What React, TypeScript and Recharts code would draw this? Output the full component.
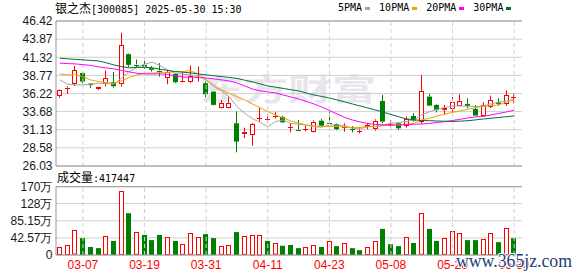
import React from 'react';
import { ComposedChart, Bar, Line, XAxis, YAxis, CartesianGrid, ReferenceLine } from 'recharts';

const dates = ['03-04','03-05','03-06','03-07','03-10','03-11','03-12','03-13','03-14','03-17','03-18','03-19','03-20','03-21','03-24','03-25','03-26','03-27','03-28','03-31','04-01','04-02','04-03','04-07','04-08','04-09','04-10','04-11','04-14','04-15','04-16','04-17','04-18','04-21','04-22','04-23','04-24','04-25','04-28','04-29','04-30','05-06','05-07','05-08','05-09','05-12','05-13','05-14','05-15','05-16','05-19','05-20','05-21','05-22','05-23','05-26','05-27','05-28','05-29','05-30'];

const openP = [35.84,36.85,37.62,39.10,37.62,36.83,37.53,37.81,37.53,41.76, 40.30,40.25,39.78,39.45,38.38,38.98,37.85,37.81,38.40,37.67, 36.49,34.15,34.15,32.04,30.49,30.40,32.70,32.60,33.05,32.93, 31.38,31.15,31.15,30.77,32.40,32.10,31.90,31.48,31.22,30.92, 31.56,31.20,35.18,31.88,32.04,31.66,33.07,32.27,35.79,34.62, 33.87,34.00,34.52,34.76,34.05,33.11,34.33,34.99,34.80,35.60];
const highP = [36.80,37.25,40.10,39.20,37.70,37.18,39.45,39.26,44.76,41.85, 41.00,41.10,40.07,40.50,39.55,39.08,39.30,40.15,40.00,37.90, 36.55,35.32,35.79,33.70,31.42,32.04,34.25,33.30,33.60,33.10, 32.04,32.50,31.75,32.45,32.65,33.65,32.00,32.04,31.65,31.30, 32.10,32.60,36.03,32.50,32.15,33.00,33.45,38.84,36.17,34.70, 34.62,35.74,36.12,35.55,34.62,34.99,35.93,35.55,36.69,36.21];
const lowP = [35.60,36.15,37.25,37.65,36.97,36.70,37.20,37.05,37.20,39.97, 39.80,39.70,39.30,38.60,37.53,37.67,37.80,37.67,37.90,35.70, 34.55,34.10,34.10,27.95,29.93,28.88,32.27,32.27,32.74,32.07, 30.77,31.05,30.90,30.70,31.55,31.95,31.05,30.86,30.75,30.60, 31.20,31.00,32.04,31.57,31.10,31.42,32.27,32.00,34.52,33.59, 33.30,33.59,34.45,34.15,33.10,32.97,34.20,34.52,34.50,34.85];
const closeP = [36.73,37.05,39.50,37.90,37.40,37.15,38.42,37.25,43.02,40.25, 40.20,40.00,39.55,39.30,39.22,37.81,37.95,38.70,38.50,36.12, 34.62,34.90,34.90,29.45,30.86,31.90,32.78,32.68,33.12,32.18, 31.45,31.05,31.25,32.27,31.70,32.00,31.20,31.55,31.18,31.00, 31.80,32.40,32.27,31.95,31.33,32.60,32.40,36.59,34.52,33.90, 34.15,34.99,35.14,34.43,33.11,34.62,35.28,34.76,35.98,35.74];

const ma5 = [38.14,37.53,37.43,37.43,37.53,37.67,37.67,37.53,38.38,39.31, 39.87,40.35,40.63,40.15,39.55,39.08,38.94,38.84,38.60,38.14, 37.19,36.59,35.79,34.38,33.45,32.70,32.15,31.56,32.27,32.50, 32.04,31.90,31.80,31.56,31.48,31.80,31.80,31.70,31.34,31.24, 31.56,31.56,31.80,32.04,32.15,32.27,32.50,33.21,33.67,34.01, 34.24,34.48,34.48,34.48,34.38,34.48,34.76,35.00,35.18,35.45];
const ma10 = [38.98,38.84,38.84,38.60,38.14,37.90,37.76,37.67,37.99,38.46, 38.84,39.08,39.08,39.17,39.17,39.31,39.31,39.45,38.94,38.14, 37.43,36.73,36.26,35.79,35.32,34.76,34.24,33.70,33.21,32.79, 32.36,32.08,31.80,31.66,31.59,31.59,31.59,31.52,31.42,31.45, 31.56,31.63,31.70,31.76,31.80,31.87,32.04,32.50,32.74,33.07, 33.31,33.59,33.77,34.01,34.24,34.38,34.52,34.62,35.00,35.32];
const ma20 = [40.49,40.43,40.39,40.28,40.18,39.97,39.83,39.69,39.48,39.26, 39.08,38.98,38.98,38.98,38.91,38.70,38.52,38.52,38.49,38.42, 38.28,38.14,37.99,37.71,37.29,36.87,36.59,36.45,36.31,36.02, 35.74,35.46,35.11,34.76,34.33,33.84,33.35,32.86,32.50,32.22, 32.01,31.87,31.80,31.80,31.80,31.87,31.91,31.94,32.01,32.15, 32.27,32.43,32.60,32.79,32.93,33.00,33.21,33.42,33.63,33.87];
const ma30 = [41.19,41.10,41.02,40.95,40.88,40.81,40.55,40.25,40.01,39.83, 39.90,39.90,39.85,39.64,39.48,39.31,39.22,39.12,38.98,38.84, 38.72,38.60,38.48,38.35,38.10,37.86,37.58,37.29,37.12,36.94, 36.76,36.59,36.30,36.02,35.81,35.60,35.32,35.04,34.75,34.47, 34.19,33.91,33.60,33.28,32.96,32.64,32.53,32.43,32.40,32.36, 32.32,32.29,32.34,32.40,32.52,32.64,32.75,32.86,32.96,33.07];

const volume = [20,25,61,42,20,17,47,35,159,104, 57,50,37,50,45,35,27,54,45,52, 42,22,25,57,47,51,51,35,29,23, 25,17,20,25,20,35,22,29,17,12, 20,35,65,27,22,45,30,104,65,35, 42,60,55,37,37,40,55,32,67,41.74];
const volUp = [1,1,1,0,0,0,1,0,1,0, 1,0,0,0,1,0,1,1,1,0, 0,1,1,0,1,1,1,0,1,0, 0,0,1,1,0,1,0,1,0,0, 1,1,0,0,0,1,0,1,0,0, 1,1,1,0,0,1,1,0,1,0];

const priceTicks = [26.03, 28.58, 31.13, 33.68, 36.22, 38.77, 41.32, 43.87, 46.42];
const volTicks = [0, 42.57, 85.15, 128, 170];
const volTickLabels = ['0', '42.57万', '85.15万', '128万', '170万'];
const dateTicks = ['03-07','03-19','03-31','04-11','04-23','05-08','05-20','05-30'];
const maNames = ['5PMA', '10PMA', '20PMA', '30PMA'];
const maKeys = ['ma5', 'ma10', 'ma20', 'ma30'];
const maColors = ['#a6a6a6', '#f0a400', '#ff00ff', '#00703a'];
const titleText = '银之杰[300085] 2025-05-30 15:30';
const volTitleText = '成交量:417447';
const watermarkText = '东方财富';
const siteText = 'www.365jz.com';

const RED = '#ff0000';
const GREEN = '#008000';
const GRID = '#d0d0d0';
const BORDER = '#999999';

const data = dates.map((d, i) => ({
  date: d,
  open: openP[i], high: highP[i], low: lowP[i], close: closeP[i],
  range: [lowP[i], highP[i]],
  ma5: ma5[i], ma10: ma10[i], ma20: ma20[i], ma30: ma30[i],
  volume: volume[i], up: volUp[i] === 1,
}));

function CandleShape(props: any) {
  const { x, y, width, height, payload } = props;
  if (x == null || !payload) return null;
  const top = Math.min(y, y + height);
  const h = Math.abs(height);
  const { open, close, high, low } = payload;
  const k = high > low ? h / (high - low) : 0;
  const yOf = (v: number) => top + (high - v) * k;
  const cx = Math.floor(x + width / 2);
  const up = close >= open;
  const color = up ? RED : GREEN;
  const bTop = yOf(Math.max(open, close));
  const bBot = yOf(Math.min(open, close));
  const bodyH = bBot - bTop;
  const wx = cx + 0.5;
  let body;
  if (bodyH < 1.5) {
    const yy = Math.round(bTop) + 0.5;
    body = <line x1={cx - 2} x2={cx + 3} y1={yy} y2={yy} stroke={color} />;
  } else if (up) {
    const t = Math.round(bTop);
    const b = Math.round(bBot);
    body = <rect x={cx - 1.5} y={t + 0.5} width={4} height={Math.max(1, b - t - 1)} fill="#fff" stroke={color} />;
  } else {
    body = <rect x={cx - 2} y={bTop} width={5} height={bodyH} fill={color} />;
  }
  return (
    <g>
      <line x1={wx} x2={wx} y1={top} y2={bTop} stroke={color} />
      <line x1={wx} x2={wx} y1={bBot} y2={top + h} stroke={color} />
      {body}
    </g>
  );
}

function VolShape(props: any) {
  const { x, y, width, height, payload } = props;
  if (x == null || !payload) return null;
  const cx = Math.floor(x + width / 2);
  const t = Math.min(y, y + height);
  const h = Math.abs(height);
  if (payload.up) {
    return <rect x={cx - 1.5} y={Math.round(t) + 0.5} width={4} height={Math.max(1, h - 1)} fill="#fff" stroke={RED} />;
  }
  return <rect x={cx - 2} y={t} width={5} height={h} fill={GREEN} />;
}

const axisFont = { fontSize: 12, fill: '#1a1a1a', fontFamily: '"Liberation Sans", Arial, sans-serif' };
const monoFont = '"DejaVu Sans Mono", "Liberation Mono", monospace';
const cjkFont = '"Noto Sans CJK SC", sans-serif';

function MixedText({ text }: { text: string }) {
  const parts = text.match(/[\u4e00-\u9fff]+|[^\u4e00-\u9fff]+/g) || [];
  return (
    <>
      {parts.map((p, i) =>
        /[\u4e00-\u9fff]/.test(p) ? (
          <span key={i} style={{ fontFamily: cjkFont, fontSize: 12 }}>{p}</span>
        ) : (
          <span key={i} style={{ fontFamily: monoFont, fontSize: 10, whiteSpace: 'pre' }}>{p}</span>
        )
      )}
    </>
  );
}

export default function App() {
  return (
    <div style={{ position: 'absolute', left: 0, top: 0, width: 578, height: 276, background: '#fff', overflow: 'hidden' }}>
      <svg width={578} height={276} style={{ position: 'absolute', left: 0, top: 0 }}>
        <text x={200} y={100} fontSize={30} fontWeight="bold" fill="#e6e6ec" textLength={176} lengthAdjust="spacingAndGlyphs" fontFamily={cjkFont}>
          {watermarkText}
        </text>
      </svg>

      <div style={{ position: 'absolute', left: 0, top: 0 }}>
        <ComposedChart width={578} height={180} data={data} margin={{ top: 21, right: 56, bottom: 14, left: 0 }}>
          <CartesianGrid vertical={false} stroke={GRID} />
          <XAxis dataKey="date" hide padding={{ left: 0, right: 4 }} />
          <YAxis
            type="number"
            domain={[26.03, 46.42]}
            ticks={priceTicks}
            interval={0}
            allowDataOverflow
            width={56}
            tickLine={false}
            tickSize={0}
            tickMargin={3.5}
            axisLine={{ stroke: BORDER }}
            tick={axisFont}
            tickFormatter={(v: number) => v.toFixed(2)}
          />
          <YAxis yAxisId="r" orientation="right" domain={[26.03, 46.42]} width={0} tick={false} tickLine={false} axisLine={{ stroke: BORDER }} />
          {dateTicks.map((d) => (
            <ReferenceLine key={d} x={d} stroke={GRID} strokeDasharray="4 3" />
          ))}
          <ReferenceLine y={46.42} stroke={BORDER} />
          <ReferenceLine y={26.03} stroke={BORDER} />
          {maKeys.map((k, i) => (
            <Line key={k} dataKey={k} type="linear" stroke={maColors[i]} strokeWidth={1} dot={false} isAnimationActive={false} />
          ))}
          <Bar dataKey="range" barSize={5} shape={<CandleShape />} isAnimationActive={false} />
        </ComposedChart>
      </div>

      <div style={{ position: 'absolute', left: 0, top: 166 }}>
        <ComposedChart width={578} height={110} data={data} margin={{ top: 20.7, right: 56, bottom: 0, left: 0 }}>
          <CartesianGrid vertical={false} stroke={GRID} />
          <XAxis
            dataKey="date"
            ticks={dateTicks}
            interval={0}
            padding={{ left: 0, right: 4 }}
            height={21}
            tickLine={false}
            tickSize={0}
            tickMargin={5}
            axisLine={{ stroke: BORDER }}
            tick={{ ...axisFont, fill: RED }}
          />
          <YAxis
            type="number"
            domain={[0, 170]}
            ticks={volTicks}
            interval={0}
            width={56}
            tickLine={false}
            tickSize={0}
            tickMargin={3.5}
            axisLine={{ stroke: BORDER }}
            tick={axisFont}
            tickFormatter={(v: number) => volTickLabels[volTicks.indexOf(v)] ?? String(v)}
          />
          <YAxis yAxisId="r" orientation="right" domain={[0, 170]} width={0} tick={false} tickLine={false} axisLine={{ stroke: BORDER }} />
          {dateTicks.map((d) => (
            <ReferenceLine key={d} x={d} stroke={GRID} strokeDasharray="4 3" />
          ))}
          <ReferenceLine y={170} stroke={BORDER} />
          <Bar dataKey="volume" barSize={5} shape={<VolShape />} isAnimationActive={false} />
        </ComposedChart>
      </div>

      <div style={{ position: 'absolute', left: 55, top: 1, color: '#000', lineHeight: '14px', whiteSpace: 'pre' }}>
        <MixedText text={titleText} />
      </div>

      <div style={{ position: 'absolute', left: 338, top: 2, display: 'flex', alignItems: 'center', gap: 9, lineHeight: '12px' }}>
        {maNames.map((n, i) => (
          <div key={n} style={{ display: 'flex', alignItems: 'center' }}>
            <span style={{ fontFamily: monoFont, fontSize: 10, color: '#000' }}>{n}</span>
            <span style={{ display: 'inline-block', width: 5, height: 3, background: maColors[i], marginLeft: 3 }} />
          </div>
        ))}
      </div>

      <div style={{ position: 'absolute', left: 57, top: 170, color: '#000', lineHeight: '14px', whiteSpace: 'pre' }}>
        <MixedText text={volTitleText} />
      </div>

      <svg width={578} height={276} style={{ position: 'absolute', left: 0, top: 0, pointerEvents: 'none' }}>
        <text
          x={456}
          y={266.5}
          fontSize={18}
          fontFamily='"Liberation Serif", "DejaVu Serif", serif'
          fill="#1c3f7a"
          stroke="#fff"
          strokeWidth={2}
          paintOrder="stroke"
          textLength={116}
          lengthAdjust="spacingAndGlyphs"
        >
          {siteText}
        </text>
      </svg>
    </div>
  );
}
